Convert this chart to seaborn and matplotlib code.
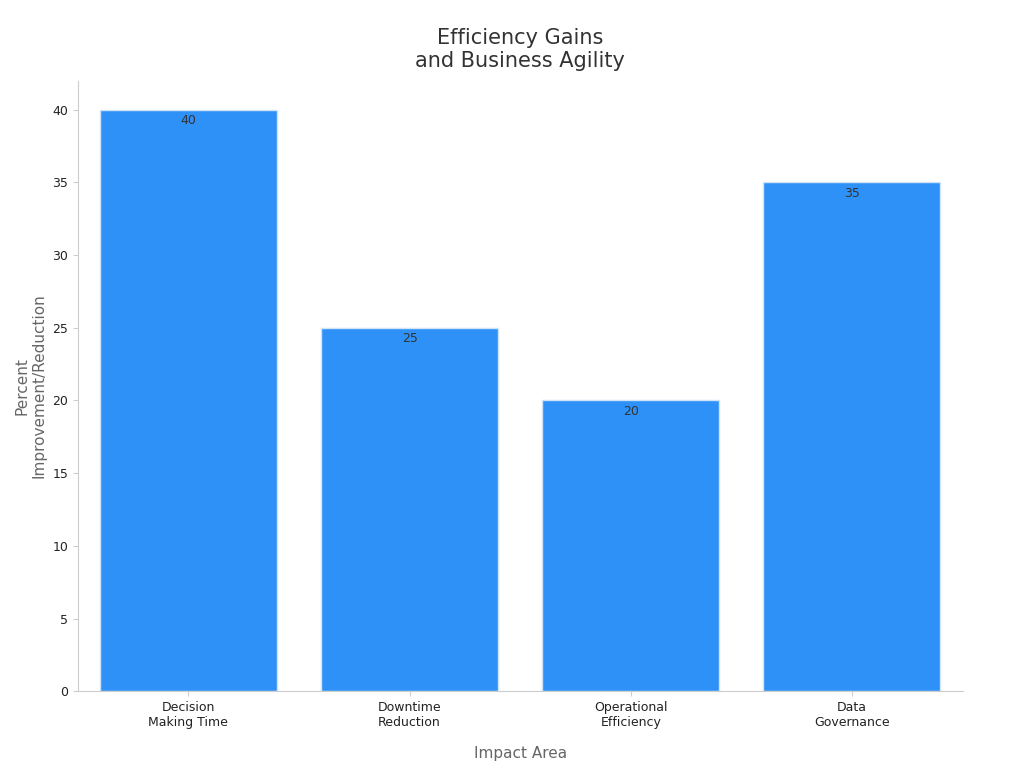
import matplotlib
matplotlib.use("Agg")
import matplotlib.pyplot as plt
import seaborn as sns
import pandas as pd

categories = ["Decision\nMaking Time", "Downtime\nReduction", "Operational\nEfficiency", "Data\nGovernance"]
values = [40, 25, 20, 35]

df = pd.DataFrame({"cat": categories, "val": values})
plt.rcParams["font.family"] = "DejaVu Sans"
fig, ax = plt.subplots(figsize=(10.24, 7.68), dpi=100)
fig.subplots_adjust(left=0.076, right=0.94, top=0.895, bottom=0.1)
sns.barplot(data=df, x="cat", y="val", color="#2e91f8", saturation=1, width=0.8,
            edgecolor="#d0e4f7", linewidth=1, ax=ax)
for i, v in enumerate(values):
    ax.text(i, v - 0.3, str(v), ha="center", va="top", fontsize=9, color="#333333")
ax.set_ylim(0, 42)
ax.set_yticks(range(0, 41, 5))
ax.set_xlabel("Impact Area", fontsize=11, color="#666666", labelpad=12)
ax.set_ylabel("Percent\nImprovement/Reduction", fontsize=11, color="#666666")
ax.set_title("Efficiency Gains\nand Business Agility", fontsize=15, color="#333333", pad=10)
sns.despine(ax=ax)
for s in ["left", "bottom"]:
    ax.spines[s].set_color("#cccccc")
ax.tick_params(colors="#cccccc", labelcolor="#222222", labelsize=9)
fig.savefig("out.png")
